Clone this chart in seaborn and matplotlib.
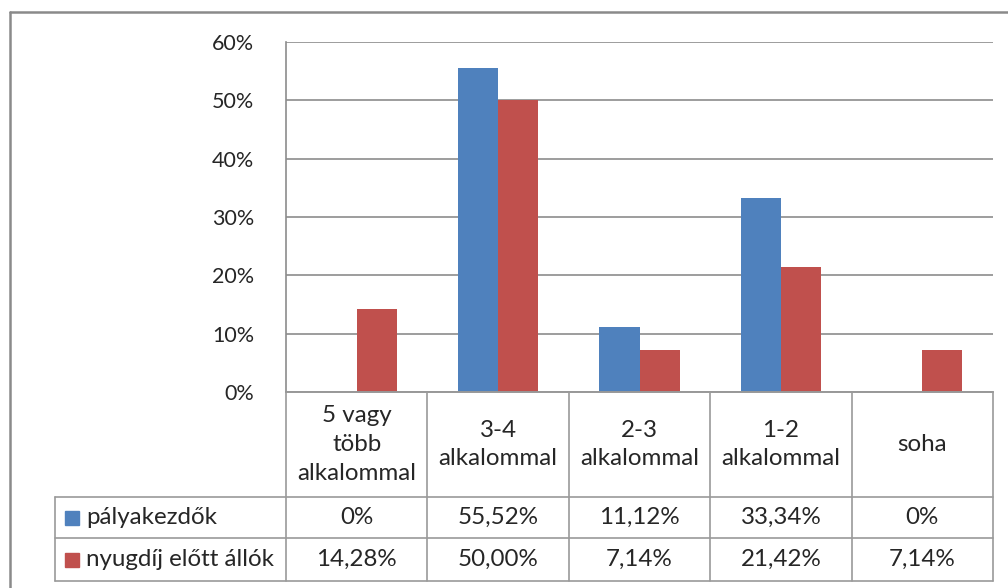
import matplotlib
matplotlib.use("Agg")
import matplotlib.pyplot as plt
from matplotlib.lines import Line2D
from matplotlib.patches import Rectangle
import seaborn as sns
import pandas as pd

# ---- data ----
categories = ["5 vagy\ntöbb\nalkalommal", "3-4\nalkalommal", "2-3\nalkalommal",
              "1-2\nalkalommal", "soha"]
series_names = ["pályakezdők", "nyugdíj előtt állók"]
palyakezdok = [0.0, 55.52, 11.12, 33.34, 0.0]
nyugdij = [14.28, 50.00, 7.14, 21.42, 7.14]
palyakezdok_labels = ["0%", "55,52%", "11,12%", "33,34%", "0%"]
nyugdij_labels = ["14,28%", "50,00%", "7,14%", "21,42%", "7,14%"]
yticks = [0, 10, 20, 30, 40, 50, 60]
ytick_labels = ["0%", "10%", "20%", "30%", "40%", "50%", "60%"]
colors = ["#4F81BD", "#C0504D"]

df = pd.DataFrame({
    "cat": categories * 2,
    "series": [series_names[0]] * 5 + [series_names[1]] * 5,
    "val": palyakezdok + nyugdij,
})

sns.set_theme(style="white")
plt.rcParams["font.family"] = ["Lato", "DejaVu Sans"]
TXT = "#262626"
GRID = "#8c8c8c"
FS_TICK = 15.5
FS = 17.4

W, H = 1008, 588
fig = plt.figure(figsize=(W / 100, H / 100), dpi=100)

def fx(px):
    return px / W

def fy(py):
    return 1 - py / H

# plot area
L, R, T, B = 286, 993, 42, 392
ax = fig.add_axes([fx(L), fy(B), fx(R) - fx(L), fy(T) - fy(B)])
sns.barplot(data=df, x="cat", y="val", hue="series", palette=colors,
            width=0.566, saturation=1, legend=False, ax=ax, linewidth=0)
ax.set_xlim(-0.5, len(categories) - 0.5)
ax.set_ylim(0, 60)
ax.set_yticks(yticks)
ax.set_yticklabels(ytick_labels, fontsize=FS_TICK, color=TXT)
ax.set_xticks([])
ax.set_xlabel("")
ax.set_ylabel("")
ax.tick_params(axis="y", length=0, pad=23)
ax.yaxis.grid(True, color=GRID, linewidth=1.2)
ax.set_axisbelow(True)
for s in ["top", "right"]:
    ax.spines[s].set_visible(False)
for s in ["left", "bottom"]:
    ax.spines[s].set_color(GRID)
    ax.spines[s].set_linewidth(1.2)

# outer chart frame
fig.add_artist(Line2D([fx(10), fx(10)], [fy(12), fy(600)], color="#8a8a8a", lw=1.8))
fig.add_artist(Line2D([fx(10), fx(1020)], [fy(12), fy(12)], color="#8a8a8a", lw=1.8))

# data table
TL = 55
row_y = [B, 497, 538, 581]
col_px = [L + (R - L) * i / len(categories) for i in range(len(categories) + 1)]
TAB = "#9a9a9a"
for i, y in enumerate(row_y):
    x0 = L if i == 0 else TL
    fig.add_artist(Line2D([fx(x0), fx(R)], [fy(y), fy(y)], color=TAB, lw=1.2))
for x in col_px:
    fig.add_artist(Line2D([fx(x), fx(x)], [fy(B), fy(row_y[-1])], color=TAB, lw=1.2))
fig.add_artist(Line2D([fx(TL), fx(TL)], [fy(row_y[1]), fy(row_y[-1])], color=TAB, lw=1.2))

for i, cat in enumerate(categories):
    cx = (col_px[i] + col_px[i + 1]) / 2
    fig.text(fx(cx), fy((row_y[0] + row_y[1]) / 2), cat, ha="center", va="center",
             fontsize=FS, color=TXT, linespacing=1.45)
    fig.text(fx(cx), fy((row_y[1] + row_y[2]) / 2), palyakezdok_labels[i],
             ha="center", va="center", fontsize=FS, color=TXT)
    fig.text(fx(cx), fy((row_y[2] + row_y[3]) / 2), nyugdij_labels[i],
             ha="center", va="center", fontsize=FS, color=TXT)

for j, name in enumerate(series_names):
    yc = (row_y[j + 1] + row_y[j + 2]) / 2
    fig.add_artist(Rectangle((fx(65), fy(yc + 7)), fx(14), 14 / H, color=colors[j],
                             transform=fig.transFigure))
    fig.text(fx(86), fy(yc), name, ha="left", va="center", fontsize=FS, color=TXT)

fig.savefig("out.png", dpi=100, facecolor="white")
